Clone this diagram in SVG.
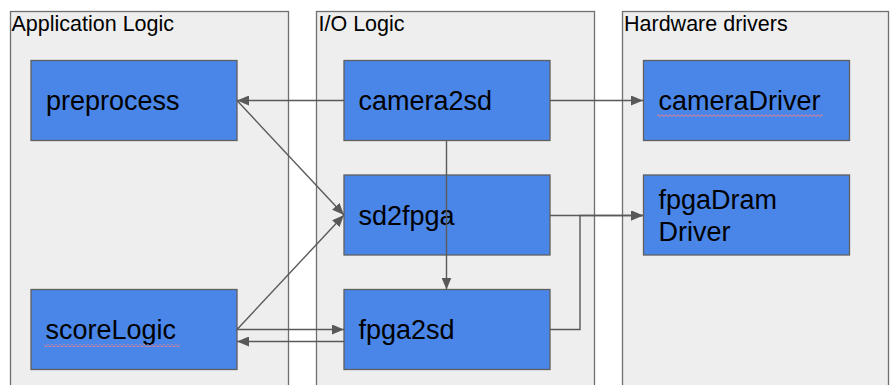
<svg xmlns="http://www.w3.org/2000/svg" width="895" height="385" viewBox="0 0 895 385">
  <defs>
    <marker id="arrow" viewBox="0 0 12 10" refX="12" refY="5" markerWidth="12" markerHeight="10" markerUnits="userSpaceOnUse" orient="auto">
      <path d="M0,0 L12,5 L0,10 Z" fill="#595959"/>
    </marker>
    <!-- wavy underline tile, 4px period -->
    <pattern id="wave" x="0" y="0" width="4" height="3" patternUnits="userSpaceOnUse">
      <path d="M0,2.5 L2,0.8 L4,2.5" fill="none" stroke="#e8808a" stroke-width="1"/>
    </pattern>
  </defs>
  <style>
    .group { fill: #eeeeee; stroke: #6f6f6f; stroke-width: 1.3; }
    .group-title { font-family: "Liberation Sans", Arial, sans-serif; font-size: 21.5px; fill: #000; }
    .node rect { fill: #4a86e8; stroke: #5f5f5f; stroke-width: 1.3; }
    .node text { font-family: "Liberation Sans", Arial, sans-serif; font-size: 27px; fill: #000; }
    .node rect.squiggle { fill: url(#wave); stroke: none; }
    .edge { fill: none; stroke: #595959; stroke-width: 1.4; }
  </style>

  <rect width="895" height="385" fill="#ffffff"/>

  <!-- Layer containers -->
  <g id="app-logic">
    <rect class="group" x="10.5" y="11.5" width="278" height="390"/>
    <text class="group-title" x="11.5" y="30.5">Application Logic</text>
  </g>
  <g id="io-logic">
    <rect class="group" x="316.5" y="11.5" width="278" height="390"/>
    <text class="group-title" x="318.5" y="30.5">I/O Logic</text>
  </g>
  <g id="hw-drivers">
    <rect class="group" x="622.5" y="11.5" width="266" height="390"/>
    <text class="group-title" x="624" y="30.5">Hardware drivers</text>
  </g>

  <!-- Nodes -->
  <g id="preprocess" class="node">
    <rect x="31" y="60.5" width="206" height="80"/>
    <text x="46" y="110">preprocess</text>
  </g>
  <g id="camera2sd" class="node">
    <rect x="344" y="60.5" width="206" height="80"/>
    <text x="358.5" y="110">camera2sd</text>
  </g>
  <g id="cameraDriver" class="node">
    <rect x="643.5" y="60.5" width="206" height="80"/>
    <text x="658.5" y="110">cameraDriver</text>
    <rect class="squiggle" x="657" y="114" width="166" height="3"/>
  </g>
  <g id="sd2fpga" class="node">
    <rect x="344" y="175" width="206" height="80"/>
    <text x="358.5" y="224.5">sd2fpga</text>
  </g>
  <g id="fpgaDramDriver" class="node">
    <rect x="643.5" y="175" width="206" height="80"/>
    <text x="658.5" y="208.5">fpgaDram</text>
    <text x="658.5" y="241">Driver</text>
  </g>
  <g id="scoreLogic" class="node">
    <rect x="31" y="289.5" width="206" height="80"/>
    <text x="45.5" y="339">scoreLogic</text>
    <rect class="squiggle" x="44" y="344" width="136" height="3"/>
  </g>
  <g id="fpga2sd" class="node">
    <rect x="344" y="289.5" width="206" height="80"/>
    <text x="358.5" y="339">fpga2sd</text>
  </g>

  <!-- Connectors (drawn above the nodes; the camera2sd to fpga2sd line crosses sd2fpga) -->
  <g id="connectors">
    <line class="edge" x1="344" y1="100.5" x2="237" y2="100.5" marker-end="url(#arrow)"/>
    <line class="edge" x1="550" y1="100.5" x2="643" y2="100.5" marker-end="url(#arrow)"/>
    <line class="edge" x1="237" y1="100.5" x2="344" y2="215" marker-end="url(#arrow)"/>
    <line class="edge" x1="237" y1="329.5" x2="344" y2="215" marker-end="url(#arrow)"/>
    <line class="edge" x1="446.5" y1="140.5" x2="446.5" y2="289.5" marker-end="url(#arrow)"/>
    <line class="edge" x1="237" y1="329.5" x2="344" y2="329.5" marker-end="url(#arrow)"/>
    <line class="edge" x1="344" y1="341.5" x2="237" y2="341.5" marker-end="url(#arrow)"/>
    <line class="edge" x1="550" y1="215.5" x2="643" y2="215.5" marker-end="url(#arrow)"/>
    <polyline class="edge" points="550,329.5 580,329.5 580,215.5 643,215.5" marker-end="url(#arrow)"/>
  </g>
</svg>
